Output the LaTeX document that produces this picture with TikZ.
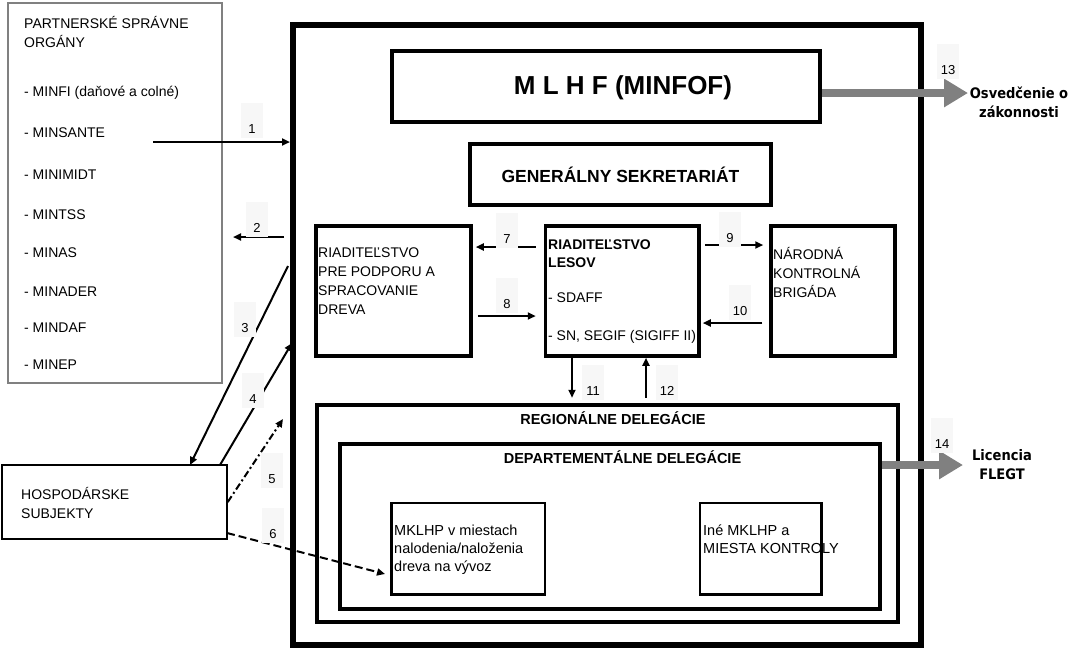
\documentclass[tikz,border=0pt]{standalone}
\usepackage{fontspec}
\setmainfont{Liberation Sans}
\newfontfamily\dvcond{DejaVu Sans Condensed}
\usepackage{tikz}
\usetikzlibrary{arrows.meta,calc}

\begin{document}
\begin{tikzpicture}[x=1pt,y=-1pt,
    >={Triangle[length=8pt,width=7pt]},
    box/.style={draw,line width=#1,inner sep=0pt},
    txt/.style={anchor=west,align=left,inner sep=2pt,font=\fontsize{14}{19}\selectfont},
    txtb/.style={anchor=west,align=left,inner sep=2pt,font=\fontsize{14}{18}\selectfont\bfseries},
    title/.style={font=\fontsize{14.5}{18}\selectfont\bfseries},
    num/.style={anchor=base,fill=black!3,inner sep=2pt,minimum width=22pt,text height=28pt,text depth=3pt,font=\fontsize{13}{13}\selectfont},
    link/.style={->,line width=2pt},
    fat/.style={-{Triangle[length=24pt,width=27pt]},line width=8pt,draw=black!50},
    result/.style={align=center,font=\dvcond\fontsize{14.5}{19}\selectfont\bfseries}]
  \useasboundingbox[fill=white] (0,0) rectangle (1069,649);

  % partnerske organy
  \node[box=1.5pt,draw=black!50,minimum width=214pt,minimum height=380pt] (partners) at (115,193) {};
  \node[txt,font=\fontsize{14}{18.5}\selectfont] (partnerstitle) at (22,32) {PARTNERSKÉ SPRÁVNE\\ORGÁNY};
  \node[txt] (minfi) at (22,93) {- MINFI (daňové a colné)};
  \node[txt] (minsante) at (22,133) {- MINSANTE};
  \node[txt] (minimidt) at (22,175) {- MINIMIDT};
  \node[txt] (mintss) at (22,215) {- MINTSS};
  \node[txt] (minas) at (22,253) {- MINAS};
  \node[txt] (minader) at (22,292) {- MINADER};
  \node[txt] (mindaf) at (22,328) {- MINDAF};
  \node[txt] (minep) at (22,365) {- MINEP};

  % hospodarske subjekty
  \node[box=1.5pt,minimum width=225pt,minimum height=74pt] (hosp) at (114.5,502) {};
  \node[txt] (hosptext) at (19,502.5) {HOSPODÁRSKE\\SUBJEKTY};

  % ministerstvo
  \node[box=6pt,minimum width=628pt,minimum height=620pt] (ministry) at (607,335) {};
  \node[box=4.5pt,minimum width=428pt,minimum height=71pt] (mlhf) at (606,86.5) {};
  \node[font=\fontsize{26}{30}\selectfont\bfseries] (mlhftext) at (623,88) {M L H F (MINFOF)};
  \node[box=4.5pt,minimum width=301pt,minimum height=61pt,font=\fontsize{17.5}{20}\selectfont\bfseries] (sekretariat) at (620.5,174.5) {GENERÁLNY SEKRETARIÁT};

  % riaditelstva
  \node[box=3.5pt,minimum width=155pt,minimum height=130pt] (podpora) at (393.5,291) {};
  \node[txt] (podporatext) at (316,281) {RIADITEĽSTVO\\PRE PODPORU A\\SPRACOVANIE\\DREVA};
  \node[box=3.5pt,minimum width=153.5pt,minimum height=130pt] (lesov) at (622.25,291) {};
  \node[txtb] (lesovtext) at (546,254) {RIADITEĽSTVO\\LESOV};
  \node[txt] (sdaff) at (546,298) {- SDAFF};
  \node[txt] (segif) at (546,337) {- SN, SEGIF (SIGIFF II)};
  \node[box=3.5pt,minimum width=124pt,minimum height=130pt] (brigada) at (833,291) {};
  \node[txt] (brigadatext) at (771,272) {NÁRODNÁ\\KONTROLNÁ\\BRIGÁDA};

  % delegacie
  \node[box=4.5pt,minimum width=581pt,minimum height=217pt] (regional) at (607.5,513.5) {};
  \node[title] (regionaltext) at (613,418) {REGIONÁLNE DELEGÁCIE};
  \node[box=4pt,minimum width=540pt,minimum height=165pt] (dept) at (610,526.5) {};
  \node[title] (depttext) at (622.5,457) {DEPARTEMENTÁLNE DELEGÁCIE};
  \node[box=2.5pt,minimum width=153.5pt,minimum height=91.5pt] (mklhp) at (468.25,548.75) {};
  \node[txt,font=\fontsize{14.5}{18}\selectfont] (mklhptext) at (392,550) {MKLHP v miestach\\nalodenia/naloženia\\dreva na vývoz};
  \node[box=2.5pt,minimum width=121.5pt,minimum height=91.5pt] (ine) at (760.75,548.75) {};
  \node[txt,font=\fontsize{14.5}{18}\selectfont] (inetext) at (701,539) {Iné MKLHP a\\MIESTA KONTROLY};

  % vystupy
  \coordinate (c13) at (968,93);
  \coordinate (c14) at (963,465);
  \draw[fat] (c13 -| mlhf.east) -- (c13);
  \draw[fat] (c14 -| dept.east) -- (c14);
  \node[result] (osvedcenie) at (1019,102) {Osvedčenie o\\zákonnosti};
  \node[result] (licencia) at (1002,465) {Licencia\\FLEGT};

  % vztahy
  \coordinate (a1) at (153,142);
  \coordinate (a2) at (284,237);
  \coordinate (b2) at (233,237);
  \coordinate (a3) at (288,266);
  \coordinate (b3) at (190,465);
  \coordinate (a4) at (220,465);
  \coordinate (b4) at (292,343);
  \coordinate (b5) at (283,419);
  \coordinate (a6) at (227,533);
  \coordinate (b6) at (385,574);
  \draw[link] (a1) -- (a1 -| ministry.west);
  \draw[link] (a2) -- (b2);
  \draw[link] (a3) -- (b3);
  \draw[link] (a4) -- (b4);
  \draw[link,dash pattern=on 7pt off 3pt on 2pt off 3pt] (hosp.east) -- (b5);
  \draw[link,dash pattern=on 8pt off 4pt] (a6) -- (b6);

  \coordinate (r7) at (0,247);
  \coordinate (r8) at (0,316);
  \coordinate (r9) at (0,245);
  \coordinate (r10) at (0,323);
  \coordinate (c11) at (572,0);
  \coordinate (c12) at (646,0);
  \draw[link,shorten <=8pt,shorten >=3pt] (r7 -| lesov.west) -- (r7 -| podpora.east);
  \draw[link,shorten <=5pt,shorten >=8pt] (r8 -| podpora.east) -- (r8 -| lesov.west);
  \draw[link,shorten <=4pt,shorten >=6pt] (r9 -| lesov.east) -- (r9 -| brigada.west);
  \draw[link,shorten <=7pt,shorten >=2pt] (r10 -| brigada.west) -- (r10 -| lesov.east);
  \draw[link,shorten >=5pt] (c11 |- lesov.south) -- (c11 |- regional.north);
  \draw[link,shorten <=5pt] (c12 |- regional.north) -- (c12 |- lesov.south);

  % cisla
  \node[num] (n1) at (252,133) {1};
  \node[num] (n2) at (257,232) {2};
  \node[num] (n3) at (245,332) {3};
  \node[num] (n4) at (253,403) {4};
  \node[num] (n5) at (272,483) {5};
  \node[num] (n6) at (273,538) {6};
  \node[num] (n7) at (507,243) {7};
  \node[num] (n8) at (507,308) {8};
  \node[num] (n9) at (730,242) {9};
  \node[num] (n10) at (740,315) {10};
  \node[num] (n11) at (593,395) {11};
  \node[num] (n12) at (667,395) {12};
  \node[num] (n13) at (948,74) {13};
  \node[num] (n14) at (942,448) {14};
\end{tikzpicture}
\end{document}
